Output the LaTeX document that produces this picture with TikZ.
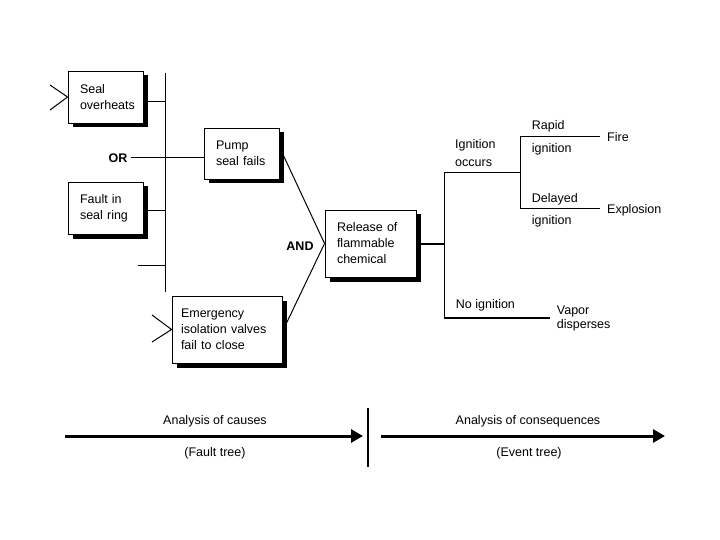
\documentclass[tikz,border=0pt]{standalone}
\usepackage{fontspec}
\setmainfont{Liberation Sans}
\usetikzlibrary{arrows.meta,shadows}
\begin{document}
\begin{tikzpicture}[x=1pt,y=-1pt,
  every node/.style={font=\fontsize{12.5}{16}\selectfont, inner sep=0pt},
  fbox/.style={draw=black, line width=0.9pt, fill=white,
    drop shadow={shadow xshift=4.5pt, shadow yshift=-4.5pt, fill=black, opacity=1},
    align=left, inner xsep=12pt, inner ysep=0pt},
  ln/.style={line width=1pt},
  lbl/.style={anchor=west, align=left},
  gate/.style={font=\bfseries\fontsize{12.5}{16}\selectfont},
  bigarrow/.style={line width=3pt, -{Triangle[length=12pt,width=13pt]}}
  ]
\useasboundingbox (0,0) rectangle (720,540);
\fill[white] (0,0) rectangle (720,540);

% fault tree boxes
\node[fbox, text width=51pt, minimum height=52pt] (seal) at (105.5,97) {Seal\\overheats};
\node[fbox, text width=51pt, minimum height=52pt] (fault) at (105.5,208) {Fault in\\seal ring};
\node[fbox, text width=51pt, minimum height=51pt] (pump) at (241.5,153.5) {Pump\\seal fails};
\node[fbox, text width=92pt, inner xsep=9pt, minimum height=67pt] (emerg) at (227,329.5) {Emergency\\isolation valves\\fail to close};
\node[fbox, text width=67pt, minimum height=67pt] (rel) at (370.5,243.5) {Release of\\flammable\\chemical};

\node[gate] (or) at (118,158) {OR};
\node[gate] (and) at (300,246) {AND};

% OR bus
\coordinate (bt) at (165,73);
\coordinate (bb) at (165,292);
\coordinate (tk) at (138,265);
\draw[ln] (bt) -- (bb);
\draw[ln] ([yshift=-4.5pt]seal.east) -- ([yshift=-4.5pt]seal.east -| bt);
\draw[ln] ([yshift=-3pt]fault.east) -- ([yshift=-3pt]fault.east -| bt);
\draw[ln] (tk) -- (tk -| bt);
\draw[ln] ([xshift=3pt]or.east) -- (or.east -| pump.west);

% input chevrons
\coordinate (c1a) at (50,85);
\coordinate (c1b) at (50,110);
\draw[ln] (c1a) -- (seal.west) -- (c1b);
\coordinate (c2a) at (152,315);
\coordinate (c2b) at (152,342);
\draw[ln] (c2a) -- (emerg.west) -- (c2b);

% AND lines
\draw[ln] ([xshift=4pt,yshift=-2pt]pump.east) -- (rel.west);
\draw[ln] (rel.west) -- ([yshift=-2pt]emerg.east);

% event tree
\coordinate (v1t) at (444,172.7);
\coordinate (v1b) at (444,317.7);
\coordinate (v2m) at (520,172.7);
\coordinate (v2t) at (520,136.7);
\coordinate (v2b) at (520,208.3);
\draw[line width=2pt] (rel.east) -- (rel.east -| v1t);
\draw[ln] (v1t) -- (v1b);
\draw[ln] (v1t) -- (v2m);
\draw[ln] (v2t) -- (v2b);

\node[lbl] (fire) at (607,136.7) {Fire};
\node[lbl] (expl) at (607,210) {Explosion};
\node[lbl, font=\fontsize{12.5}{18}\selectfont] (ign) at (455,153.5) {Ignition\\occurs};
\node[lbl] (rapid) at (531.7,126.7) {Rapid};
\node[lbl] (ign1) at (531.7,149.3) {ignition};
\node[lbl] (delayed) at (531.7,199) {Delayed};
\node[lbl] (ign2) at (531.7,221.7) {ignition};
\node[lbl] (noign) at (455.7,305) {No ignition};
\node[lbl, font=\fontsize{12.5}{14}\selectfont] (vapor) at (556.7,318.3) {Vapor\\disperses};

\draw[ln] (v2t) -- ([xshift=-7pt]fire.west);
\draw[ln] (v2b) -- ([xshift=-7pt]expl.west |- v2b);
\draw[line width=1.6pt] (v1b) -- ([xshift=-7pt]vapor.west |- v1b);

% bottom arrows
\coordinate (a1s) at (65,436);
\coordinate (a1e) at (363,436);
\coordinate (bar1) at (367.5,408);
\coordinate (bar2) at (367.5,467);
\coordinate (a2s) at (381,436);
\coordinate (a2e) at (665,436);
\draw[bigarrow] (a1s) -- (a1e);
\draw[line width=2pt] (bar1) -- (bar2);
\draw[bigarrow] (a2s) -- (a2e);

\node (ac) at (215,421) {Analysis of causes};
\node (ft) at (215,453) {(Fault tree)};
\node (acq) at (528,421) {Analysis of consequences};
\node (evt) at (529,453) {(Event tree)};
\end{tikzpicture}
\end{document}
